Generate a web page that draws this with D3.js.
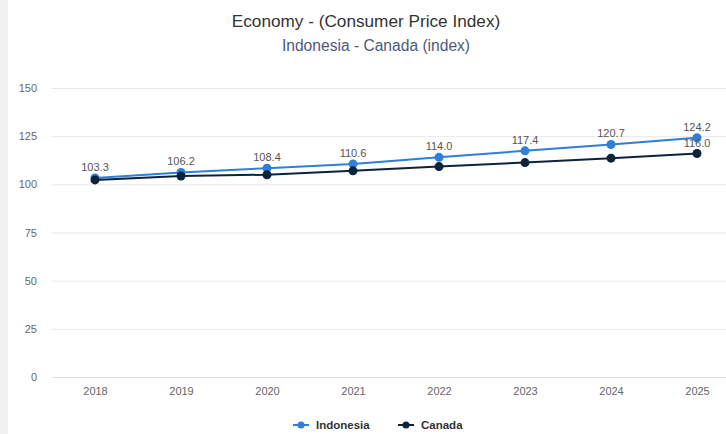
<!DOCTYPE html>
<html>
<head>
<meta charset="utf-8">
<script src="https://cdn.jsdelivr.net/npm/d3@7/dist/d3.min.js"></script>
<style>
  html, body { margin: 0; padding: 0; background: #fff; }
  svg { display: block; font-family: "Liberation Sans", Arial, sans-serif; }
</style>
</head>
<body>
<svg id="chart" width="726" height="434"></svg>
<script>
// Consumer price index by year
const years = ["2018", "2019", "2020", "2021", "2022", "2023", "2024", "2025"];
const indonesia = [103.3, 106.2, 108.4, 110.6, 114.0, 117.4, 120.7, 124.2];
const canada = [102.3, 104.3, 105.0, 107.0, 109.2, 111.3, 113.6, 116.0];
const yTicks = [0, 25, 50, 75, 100, 125, 150];
const seriesNames = ["Indonesia", "Canada"];
const seriesColors = ["#2f7ed8", "#0d233a"];

const series = [
  { name: seriesNames[0], color: seriesColors[0], values: indonesia },
  { name: seriesNames[1], color: seriesColors[1], values: canada }
];

const W = 726, H = 434;
const svg = d3.select("#chart");

// left page strip
svg.append("rect").attr("x", 0).attr("y", 0).attr("width", 8).attr("height", H).attr("fill", "#f1f1f1");

// titles
svg.append("text").attr("x", 366).attr("y", 27).attr("text-anchor", "middle")
  .attr("font-size", 17.2).attr("fill", "#333").text("Economy - (Consumer Price Index)");
svg.append("text").attr("x", 376).attr("y", 51).attr("text-anchor", "middle")
  .attr("font-size", 15.6).attr("fill", "#4d5a78").text("Indonesia - Canada (index)");

const plotLeft = 52, plotRight = 740, plotTop = 88, plotBottom = 377;

const x = d3.scalePoint().domain(years).range([95, 697]);
const y = d3.scaleLinear().domain([0, 150]).range([plotBottom, plotTop]);

// grid lines
const grid = svg.append("g");
grid.selectAll("line").data(yTicks).join("line")
  .attr("x1", plotLeft).attr("x2", plotRight)
  .attr("y1", d => y(d) + 0.5).attr("y2", d => y(d) + 0.5)
  .attr("stroke", d => d === 0 ? "#d8dfee" : "#e9e9e9").attr("stroke-width", 1);

// y axis labels
const yAxis = d3.axisLeft(y).tickValues(yTicks).tickSize(0).tickPadding(0);
const gy = svg.append("g").attr("transform", "translate(37,0)").call(yAxis);
gy.select(".domain").remove();
gy.selectAll("text").attr("font-size", 11).attr("fill", "#666").attr("font-family", "Liberation Sans, Arial, sans-serif");

// x axis labels
const xAxis = d3.axisBottom(x).tickSize(0).tickPadding(0);
const gx = svg.append("g").attr("transform", "translate(0,387)").call(xAxis);
gx.select(".domain").remove();
gx.selectAll("text").attr("font-size", 11).attr("fill", "#666").attr("font-family", "Liberation Sans, Arial, sans-serif");

// lines and markers
const line = d3.line().x((d, i) => x(years[i])).y(d => y(d));
series.forEach(s => {
  const g = svg.append("g");
  g.append("path").datum(s.values).attr("d", line)
    .attr("fill", "none").attr("stroke", s.color).attr("stroke-width", 2);
  g.selectAll("circle").data(s.values).join("circle")
    .attr("cx", (d, i) => x(years[i])).attr("cy", d => y(d)).attr("r", 4.5)
    .attr("fill", s.color);
});

// data labels; a label is dropped when it would sit too close to one already placed
const minGap = 15;
const placed = [];
const labelLayer = svg.append("g");
series.forEach(s => {
  s.values.forEach((v, i) => {
    const lx = x(years[i]), ly = y(v) - 7;
    if (placed.some(p => Math.abs(p.x - lx) < 30 && Math.abs(p.y - ly) < minGap)) return;
    placed.push({ x: lx, y: ly });
    labelLayer.append("text")
      .attr("x", lx).attr("y", ly)
      .attr("text-anchor", "middle").attr("font-size", 11).attr("fill", "#555")
      .text(v.toFixed(1));
  });
});

// legend
const legend = svg.append("g");
const legendItems = [{ x: 293, s: series[0] }, { x: 398, s: series[1] }];
legendItems.forEach(({ x: lx, s }) => {
  legend.append("line").attr("x1", lx).attr("x2", lx + 16).attr("y1", 425).attr("y2", 425)
    .attr("stroke", s.color).attr("stroke-width", 2);
  legend.append("circle").attr("cx", lx + 8).attr("cy", 425).attr("r", 3.5).attr("fill", s.color);
  legend.append("text").attr("x", lx + 23).attr("y", 429).attr("font-size", 11.5)
    .attr("font-weight", "bold").attr("fill", "#333").text(s.name);
});
</script>
</body>
</html>
